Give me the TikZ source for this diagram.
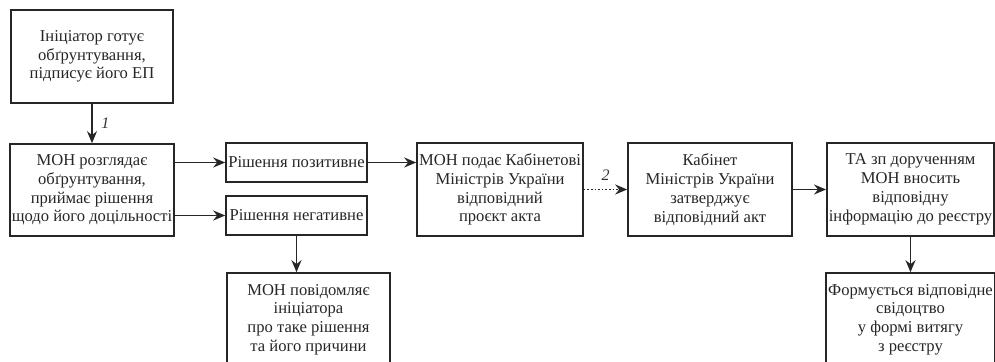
\documentclass[tikz,border=0pt]{standalone}
\usepackage{fontspec}
\setmainfont{Liberation Serif}
\usetikzlibrary{arrows.meta}
\begin{document}
\begin{tikzpicture}[x=0.5pt,y=-0.5pt,
  box/.style={draw=black!85, line width=0.8pt, align=center, inner sep=1pt,
    font=\fontsize{8.3}{9.4}\selectfont, text=black!85},
  arr/.style={draw=black!85, line width=0.8pt, -{Stealth[length=6pt,width=5pt]}},
  lbl/.style={font=\fontsize{8}{9}\itshape, text=black!80}]
\useasboundingbox (0,0) rectangle (995,362);
\node[box, minimum width=81pt, minimum height=46.5pt] (b1) at (92,56.5)
  {Ініціатор готує\\обґрунтування,\\підписує його ЕП};
\node[box, minimum width=81.5pt, minimum height=46pt] (b2) at (92,190)
  {МОН розглядає\\обґрунтування,\\приймає рішення\\щодо його доцільності};
\node[box, minimum width=70.5pt, minimum height=19.5pt] (pos) at (296.5,162.5)
  {Рішення позитивне};
\node[box, minimum width=70.5pt, minimum height=19.5pt] (neg) at (296.5,215.5)
  {Рішення негативне};
\node[box, minimum width=81.5pt, minimum height=46.5pt] (inf) at (308.5,319.5)
  {МОН повідомляє\\ініціатора\\про таке рішення\\та його причини};
\node[box, minimum width=82pt, minimum height=46.5pt] (pod) at (500,189.5)
  {МОН подає Кабінетові\\Міністрів України\\відповідний\\проєкт акта};
\node[box, minimum width=82pt, minimum height=46.5pt] (kab) at (710,189.5)
  {Кабінет\\Міністрів України\\затверджує\\відповідний акт};
\node[box, minimum width=81.5pt, minimum height=46.5pt] (ta) at (910.5,189.5)
  {ТА зп дорученням\\МОН вносить\\відповідну\\інформацію до реєстру};
\node[box, minimum width=81.5pt, minimum height=46.5pt] (form) at (910.5,319.5)
  {Формується відповідне\\свідоцтво\\у формі витягу\\з реєстру};
\draw[arr] (b1.south) -- node[lbl, right=1pt] {1} (b2.north);
\draw[arr] (b2.east |- pos.west) -- (pos.west);
\draw[arr] (b2.east |- neg.west) -- (neg.west);
\draw[arr] (neg.south) -- (neg.south |- inf.north);
\draw[arr] (pos.east) -- (pos.east -| pod.west);
\draw[arr, densely dotted] (pod.east) -- node[lbl, above=1pt] {2} (kab.west);
\draw[arr] (kab.east) -- (ta.west);
\draw[arr] (ta.south) -- (form.north);
\end{tikzpicture}
\end{document}
